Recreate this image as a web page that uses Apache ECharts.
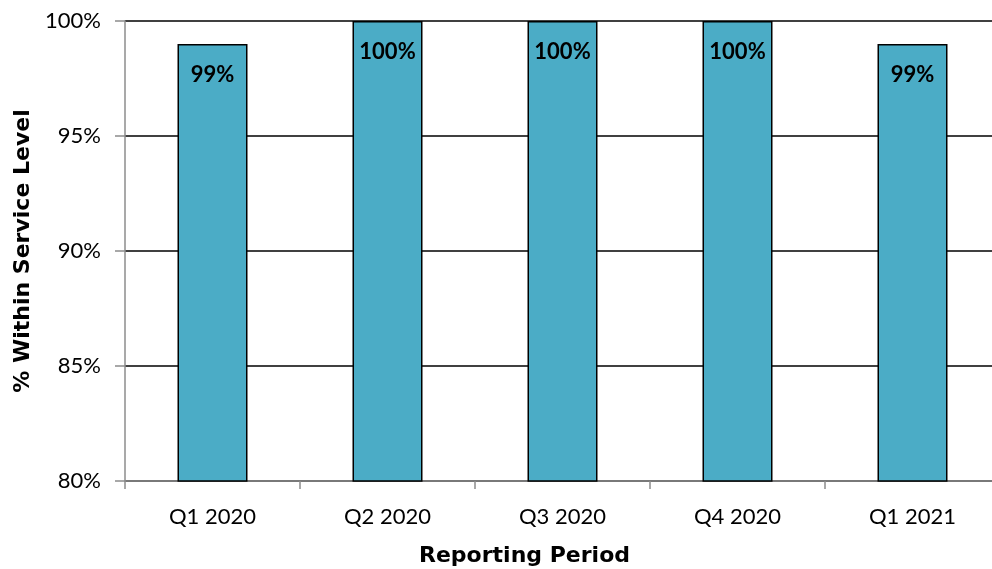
<!DOCTYPE html>
<html lang="en">
<head>
    <meta charset="UTF-8">
    <title>Service Level</title>
    <script src="https://cdn.jsdelivr.net/npm/echarts@6/dist/echarts.min.js"></script>
    <style>
        html, body { margin: 0; padding: 0; background: #fff; }
        #container { width: 992px; height: 569px; }
    </style>
</head>
<body>
<div id="container"></div>
<script>
    var categories = ['Q1 2020', 'Q2 2020', 'Q3 2020', 'Q4 2020', 'Q1 2021'];
    var values = [99, 100, 100, 100, 99];
    var labels = ['99%', '100%', '100%', '100%', '99%'];

    var myChart = echarts.init(document.getElementById('container'));

    myChart.setOption({
        animation: false,
        grid: { left: 125, top: 21, width: 875, height: 460, containLabel: false, outerBoundsMode: 'none' },
        xAxis: {
            type: 'category',
            data: categories,
            name: 'Reporting Period',
            nameLocation: 'middle',
            nameGap: 64,
            nameTextStyle: {
                fontFamily: 'DejaVu Sans', fontWeight: 'bold', fontSize: 22, color: '#000',
                padding: [0, 76, 0, 0]
            },
            axisLine: { lineStyle: { color: '#8c8c8c', width: 1.5 } },
            axisTick: { show: true, length: 8, lineStyle: { color: '#8c8c8c', width: 1.5 } },
            axisLabel: { fontFamily: 'Lato', fontSize: 22, color: '#000', margin: 25 }
        },
        yAxis: {
            type: 'value',
            min: 80,
            max: 100,
            interval: 5,
            name: '% Within Service Level',
            nameLocation: 'middle',
            nameGap: 91,
            nameTextStyle: { fontFamily: 'DejaVu Sans', fontWeight: 'bold', fontSize: 22, color: '#000' },
            axisLine: { show: true, lineStyle: { color: '#8c8c8c', width: 1.5 } },
            axisTick: { show: true, length: 10, inside: false, lineStyle: { color: '#8c8c8c', width: 1.5 } },
            splitLine: { lineStyle: { color: '#000', width: 1.5 } },
            axisLabel: {
                fontFamily: 'Lato', fontSize: 22, color: '#000', margin: 24,
                formatter: function (v) { return v + '%'; }
            }
        },
        series: [{
            type: 'bar',
            data: values,
            barWidth: '40%',
            itemStyle: { color: '#4bacc6', borderColor: '#000', borderWidth: 1.5 },
            label: {
                show: true,
                position: 'insideTop',
                distance: 20,
                fontFamily: 'Lato',
                fontWeight: 'bold',
                fontSize: 22,
                color: '#000',
                formatter: function (p) { return labels[p.dataIndex]; }
            }
        }]
    });
</script>
</body>
</html>
